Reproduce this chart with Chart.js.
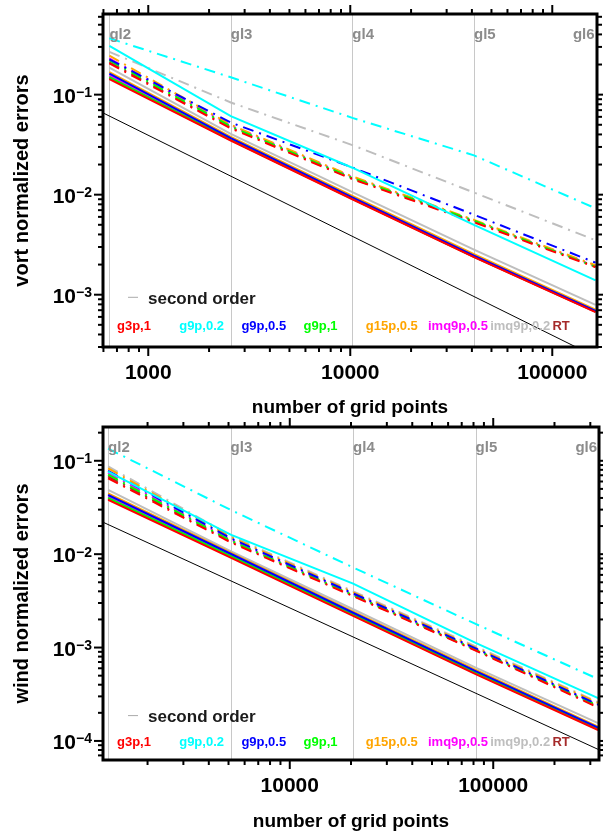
<!DOCTYPE html>
<html lang="en">
<head>
<meta charset="UTF-8">
<title>vort / wind normalized errors</title>
<script src="https://cdn.jsdelivr.net/npm/chart.js@4.4.1/dist/chart.umd.min.js"></script>
<style>
  body { margin: 0; background: #fff; }
  .panel { position: absolute; left: 0; width: 603px; height: 420px; }
  #top { top: 0; }
  #bot { top: 416px; }
</style>
</head>
<body>
<div class="panel" id="top"><canvas id="c1" width="603" height="420"></canvas></div>
<div class="panel" id="bot"><canvas id="c2" width="603" height="420"></canvas></div>
<script>
// ---- data -------------------------------------------------------------
const levels = ['gl2', 'gl3', 'gl4', 'gl5', 'gl6'];
const vortPoints = [642, 2562, 10242, 40962, 163842];
const windPoints = [1280, 5120, 20480, 81920, 327680];
const schemes = ['g3p,1', 'g9p,0.2', 'g9p,0.5', 'g9p,1', 'g15p,0.5', 'imq9p,0.5', 'imq9p,0.2', 'RT'];

// one row per scheme, one value per grid level
const vortSolid = [
  [0.143, 0.0348, 0.0090, 0.00237, 0.00067],
  [0.308, 0.061, 0.0186, 0.0050, 0.00139],
  [0.162, 0.0368, 0.0094, 0.00246, 0.00069],
  [0.150, 0.0355, 0.00915, 0.0024, 0.00068],
  [0.168, 0.0378, 0.0097, 0.00255, 0.00071],
  [0.155, 0.0360, 0.00925, 0.00243, 0.000685],
  [0.186, 0.0406, 0.0106, 0.00282, 0.00079],
  [0.146, 0.0352, 0.0091, 0.00239, 0.000675]
];
const vortDashed = [
  [0.205, 0.046, 0.0143, 0.0053, 0.00188],
  [0.366, 0.149, 0.0586, 0.0247, 0.0073],
  [0.225, 0.0526, 0.0187, 0.0063, 0.00209],
  [0.220, 0.048, 0.0147, 0.0055, 0.0019],
  [0.245, 0.050, 0.0152, 0.0056, 0.00197],
  [0.230, 0.049, 0.0150, 0.0055, 0.00193],
  [0.268, 0.0835, 0.0313, 0.0105, 0.0035],
  [0.210, 0.047, 0.0145, 0.0054, 0.00192]
];
const windSolid = [
  [0.0382, 0.0092, 0.00218, 0.00052, 0.000131],
  [0.0766, 0.0162, 0.00483, 0.00112, 0.000288],
  [0.0430, 0.0101, 0.00236, 0.00056, 0.000139],
  [0.0400, 0.0096, 0.00226, 0.00054, 0.000135],
  [0.0447, 0.0104, 0.00242, 0.000575, 0.000142],
  [0.0410, 0.0098, 0.0023, 0.00055, 0.000137],
  [0.0489, 0.0108, 0.00257, 0.00061, 0.000155],
  [0.0392, 0.0094, 0.00222, 0.00053, 0.000133]
];
const windDashed = [
  [0.065, 0.0134, 0.00355, 0.00093, 0.000228],
  [0.135, 0.0298, 0.0072, 0.00179, 0.00046],
  [0.078, 0.0148, 0.0038, 0.00098, 0.000245],
  [0.071, 0.0140, 0.00365, 0.00095, 0.000238],
  [0.083, 0.0153, 0.0039, 0.0010, 0.000255],
  [0.074, 0.0143, 0.0037, 0.00096, 0.000242],
  [0.087, 0.0158, 0.0040, 0.00103, 0.00026],
  [0.068, 0.0137, 0.0036, 0.00094, 0.000233]
];
// reference slope line (error ~ 1/N)
const vortSecondX = [597, 166500];
const vortSecondY = [0.0657, 0.000236];
const windSecondX = [1208, 331000];
const windSecondY = [0.022, 0.0000804];

// ---- style ------------------------------------------------------------
const FONT = '"Liberation Sans", Arial, Helvetica, sans-serif';
Chart.defaults.font.family = FONT;
Chart.defaults.color = '#000';
const colors = ['#ff0000', '#00ffff', '#0000ff', '#00ff00', '#ffa500', '#ff00ff', '#bebebe', '#a52a2a'];

function buildDatasets(points, solid, dashed, sx, sy) {
  const ds = [];
  schemes.forEach((s, i) => {
    ds.push({ label: s, data: points.map((x, k) => ({ x: x, y: solid[i][k] })),
      borderColor: colors[i], borderWidth: 2 });
  });
  schemes.forEach((s, i) => {
    ds.push({ label: s + ' (dash)', data: points.map((x, k) => ({ x: x, y: dashed[i][k] })),
      borderColor: colors[i], borderWidth: 2, borderDash: [11, 6, 2, 6] });
  });
  ds.push({ label: 'second order', data: sx.map((x, k) => ({ x: x, y: sy[k] })),
    borderColor: '#000', borderWidth: 1 });
  return ds;
}

function logTicks(min, max) {
  const out = [];
  for (let e = Math.floor(Math.log10(min)); e <= Math.ceil(Math.log10(max)); e++) {
    for (let m = 1; m <= 9; m++) {
      const v = m * Math.pow(10, e);
      if (v >= min * 0.9999 && v <= max * 1.0001) out.push({ v: v, major: m === 1, e: e });
    }
  }
  return out;
}

function seg(ctx, x1, y1, x2, y2) {
  ctx.beginPath(); ctx.moveTo(x1, y1); ctx.lineTo(x2, y2); ctx.stroke();
}

const decor = {
  id: 'decor',
  beforeDatasetsDraw(chart, args, o) {
    const ctx = chart.ctx, a = chart.chartArea, x = chart.scales.x;
    ctx.save();
    ctx.strokeStyle = '#c8c8c8';
    ctx.lineWidth = 1;
    o.points.forEach(p => {
      const px = Math.round(x.getPixelForValue(p)) + 0.5;
      seg(ctx, px, a.top, px, a.bottom);
    });
    ctx.restore();
  },
  afterDraw(chart, args, o) {
    const ctx = chart.ctx, a = chart.chartArea, x = chart.scales.x, y = chart.scales.y;
    ctx.save();
    // grid level labels
    ctx.font = 'bold 15px ' + FONT;
    ctx.fillStyle = '#8c8c8c';
    o.points.forEach((p, i) => {
      const px = x.getPixelForValue(p);
      const last = i === o.points.length - 1;
      ctx.textAlign = last ? 'right' : 'left';
      ctx.fillText(levels[i], px + (last ? -1 : 0), a.top + 25);
    });
    // legend
    ctx.strokeStyle = '#aaaaaa';
    ctx.lineWidth = 1;
    seg(ctx, 128, a.bottom + o.secondY - 6.7, 138, a.bottom + o.secondY - 6.7);
    ctx.font = 'bold 17px ' + FONT;
    ctx.fillStyle = '#1a1a1a';
    ctx.textAlign = 'left';
    ctx.fillText('second order', 148, a.bottom + o.secondY);
    ctx.font = 'bold 13px ' + FONT;
    schemes.forEach((s, i) => {
      ctx.fillStyle = colors[i];
      ctx.fillText(s, 117 + 62.2 * i, a.bottom + o.rowY);
    });
    // frame
    ctx.strokeStyle = '#000';
    ctx.lineWidth = 3;
    ctx.strokeRect(a.left, a.top, a.right - a.left, a.bottom - a.top);
    // ticks on all four sides, pointing out
    ctx.lineWidth = 2;
    logTicks(x.min, x.max).forEach(t => {
      const px = x.getPixelForValue(t.v), len = t.major ? 9 : 5;
      seg(ctx, px, a.top, px, a.top - len);
      seg(ctx, px, a.bottom, px, a.bottom + len);
    });
    logTicks(y.min, y.max).forEach(t => {
      const py = y.getPixelForValue(t.v), len = t.major ? 9 : 5;
      seg(ctx, a.left, py, a.left - len, py);
      seg(ctx, a.right, py, a.right + len, py);
    });
    // x tick labels (decades)
    ctx.fillStyle = '#000';
    ctx.font = 'bold 21px ' + FONT;
    ctx.textAlign = 'center';
    logTicks(x.min, x.max).filter(t => t.major).forEach(t => {
      ctx.fillText(String(Math.round(t.v)), x.getPixelForValue(t.v), a.bottom + 32);
    });
    // y tick labels 10^-n
    logTicks(y.min, y.max).filter(t => t.major).forEach(t => {
      const py = y.getPixelForValue(t.v);
      const sup = '\u2212' + (-t.e);
      const right = a.left - 11;
      ctx.font = 'bold 14px ' + FONT;
      const sw = ctx.measureText(sup).width;
      ctx.textAlign = 'left';
      ctx.fillText(sup, right - sw, py + 2.5);
      ctx.font = 'bold 21px ' + FONT;
      ctx.textAlign = 'right';
      ctx.fillText('10', right - sw, py + 8);
    });
    ctx.restore();
  }
};

function makeChart(id, points, solid, dashed, sx, sy, cfg) {
  return new Chart(document.getElementById(id).getContext('2d'), {
    type: 'line',
    data: { datasets: buildDatasets(points, solid, dashed, sx, sy) },
    options: {
      responsive: false,
      animation: false,
      devicePixelRatio: 1,
      layout: { padding: { left: 0, right: cfg.padRight, top: cfg.padTop, bottom: 0 } },
      elements: { point: { radius: 0 }, line: { tension: 0 } },
      scales: {
        x: {
          type: 'logarithmic', min: cfg.xmin, max: cfg.xmax,
          grid: { display: false }, border: { display: false },
          ticks: { display: false },
          title: { display: true, text: 'number of grid points', color: '#000',
            font: { size: 19, weight: 'bold' }, padding: { top: 0, bottom: cfg.titlePad } },
          afterFit: s => { s.height = cfg.xHeight; }
        },
        y: {
          type: 'logarithmic', min: cfg.ymin, max: cfg.ymax,
          grid: { display: false }, border: { display: false },
          ticks: { display: false },
          title: { display: true, text: cfg.ytitle, color: '#000',
            font: { size: 20, weight: 'bold' }, padding: { top: 10, bottom: 0 } },
          afterFit: s => { s.width = 103; }
        }
      },
      plugins: {
        legend: { display: false },
        tooltip: { enabled: false },
        decor: { points: points, secondY: cfg.secondY, rowY: cfg.rowY }
      }
    },
    plugins: [decor]
  });
}

makeChart('c1', vortPoints, vortSolid, vortDashed, vortSecondX, vortSecondY, {
  xmin: 597, xmax: 166500, ymin: 0.00031, ymax: 0.64,
  padRight: 6, padTop: 14, xHeight: 73, titlePad: 1,
  ytitle: 'vort normalized errors', secondY: -43, rowY: -17.5
});
makeChart('c2', windPoints, windSolid, windDashed, windSecondX, windSecondY, {
  xmin: 1208, xmax: 331000, ymin: 0.0000625, ymax: 0.23,
  padRight: 4, padTop: 11, xHeight: 76, titlePad: 3,
  ytitle: 'wind normalized errors', secondY: -37.7, rowY: -14
});
</script>
</body>
</html>
